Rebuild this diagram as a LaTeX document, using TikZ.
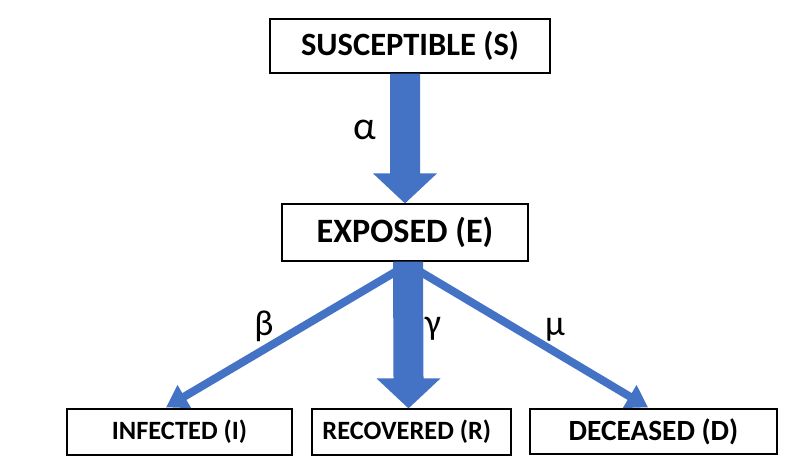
\documentclass[tikz,border=0pt]{standalone}
\usepackage{fontspec}
\setmainfont{Carlito}
\usepackage{tikz}
\usetikzlibrary{calc,arrows.meta,positioning}
\definecolor{officeblue}{HTML}{4472C4}
\tikzset{
	box/.style={draw=black,line width=0.9pt,fill=white,inner sep=0pt,font=\bfseries},
	bigtext/.style={font=\fontsize{25.6}{30}\selectfont\bfseries},
	smalltext/.style={font=\fontsize{19.8}{24}\selectfont\bfseries},
	thinarrow/.style={officeblue,line width=6pt,-{Triangle[length=16pt,width=19pt]}},
	rate/.style={font=\fontsize{27}{31}\selectfont}
}
% fat block arrow from #1 down to #2
\newcommand{\blockarrow}[2]{
	\fill[officeblue] ($(#1)+(-15,0)$) -- ($(#1)+(15,0)$) -- ($(#2)+(15,-30)$) -- ($(#2)+(32,-30)$)
		-- (#2) -- ($(#2)+(-32,-30)$) -- ($(#2)+(-15,-30)$) -- cycle;
}
\begin{document}
\begin{tikzpicture}[x=0.75pt,y=-0.75pt]
	\useasboundingbox (0,0) rectangle (812,466);
	% compartments
	\node[box,font=\fontsize{24.4}{30}\selectfont\bfseries,minimum width=210pt,minimum height=40.5pt] (S) at (410,46) {SUSCEPTIBLE (S)};
	\node[box,bigtext,minimum width=184.5pt,minimum height=42.75pt] (E) at (405,232.5) {EXPOSED (E)};
	\node[box,smalltext,minimum width=168.75pt,minimum height=34.5pt] (I) at (179.5,432) {INFECTED (I)};
	\node[box,smalltext,minimum width=149.25pt,minimum height=34.5pt] (R) at (411.5,432) {\hspace*{-7pt}RECOVERED (R)};
	\node[box,font=\fontsize{22}{26}\selectfont\bfseries,minimum width=185.25pt,minimum height=33.75pt] (D) at (653.5,431.5) {DECEASED (D)};
	% transitions
	\coordinate (eI) at ($(E.south)+(1,4)$);
	\coordinate (eD) at ($(E.south)+(5,4)$);
	\draw[thinarrow] (eI) -- ($(I.north)+(-13.5,-1)$);
	\draw[thinarrow] (eD) -- ($(D.north)+(-5.5,-1)$);
	\blockarrow{E.north |- S.south}{E.north}
	\blockarrow{$(E.south)+(3,0)$}{$(R.north)+(-3,0)$}
	% rates
	\node[rate,font=\fontsize{30}{34}\selectfont] (alpha) at (365,130) {α};
	\node[rate] (beta) at (264,326) {β};
	\node[rate] (gamma) at (433,329) {γ};
	\node[rate] (mu) at (555,330) {μ};
\end{tikzpicture}
\end{document}
